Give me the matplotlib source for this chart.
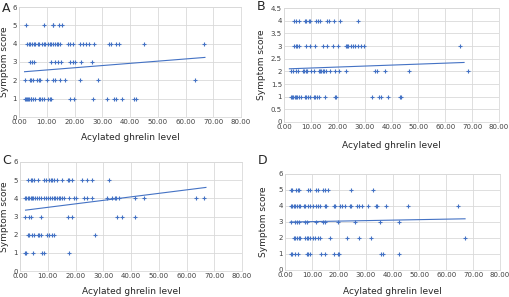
import matplotlib
matplotlib.use("Agg")
import matplotlib.pyplot as plt
import numpy as np

# Acylated ghrelin level per symptom score
a_x = {
    5: [2.4, 9.1, 12.1, 12.4, 14.4, 15.6],
    4: [2.9, 3.5, 4.1, 4.7, 5.3, 5.9, 6.9, 7.3, 8.3, 8.9, 9.5, 10.4, 11, 11.6, 12.4, 13,
        13.6, 14.2, 14.8, 17.7, 18.3, 19.5, 22.1, 23.0, 24.2, 25.4, 27.2, 32.5, 33.1,
        34.9, 36.1, 44.9, 66.8],
    3: [4.1, 4.7, 5.3, 11.6, 13, 14.2, 15.1, 18.3, 19.5, 20.1, 22.5, 26.2],
    2: [2.1, 3.8, 4.5, 5, 6.5, 7.1, 7.7, 10, 12.1, 12.8, 14.8, 16.6, 22.1, 28.4, 63.5],
    1: [2.1, 2.6, 2.9, 3.3, 3.7, 4.2, 4.5, 5, 5.9, 7.1, 7.7, 8.3, 8.9, 10.4, 11, 11.6,
        18.3, 19.9, 26.8, 31.6, 34.3, 34.9, 37, 41.6, 42.1],
}
b_x = {
    4: [3.7, 4.3, 5.5, 7.7, 8.3, 9.4, 9.8, 11.9, 12.6, 13.5, 16, 16.6, 18.6, 20.9, 27.6],
    3: [3.7, 4.3, 4.9, 5.5, 8, 9.8, 11.4, 14.5, 16, 18.4, 20.2, 22.9, 23.3, 23.9, 24.9,
        25.8, 26.4, 27.6, 28.8, 29.8, 65.6],
    2: [2.5, 3.3, 4.3, 5.3, 7.1, 7.6, 8, 8.6, 10.1, 11, 12.9, 13.3, 13.8, 14.5, 14.9,
        15.6, 17.2, 19, 20.6, 22.9, 33.7, 34.6, 37.4, 46.6, 68.5],
    1: [2.5, 3.0, 3.5, 4.0, 4.5, 5.0, 5.5, 6.2, 7.7, 8.3, 8.9, 9.6, 11, 11.6, 12.3, 13.0,
        15.3, 18.9, 19.5, 32.9, 35.3, 36.2, 38.7, 43.3, 43.6],
}
c_x = {
    5: [3, 3.8, 4.4, 5, 6.5, 8.5, 9.5, 10.6, 11.3, 11.7, 12.3, 13.3, 15.1, 17.2, 17.8,
        18.9, 22.4, 24, 26, 32],
    4: [1.8, 2.3, 2.8, 3.3, 3.8, 4.3, 4.8, 5.3, 6.2, 6.8, 7.7, 8.5, 9.4, 10.1, 10.9, 11.5,
        12.1, 12.7, 13.3, 13.9, 14.5, 15.1, 15.7, 17.5, 19.6, 20.0, 23.2, 24.3, 26.1,
        31.5, 33.2, 34.1, 34.7, 35.5, 41.5, 44.7, 63.4, 66.4],
    3: [1.8, 3.2, 3.8, 7.4, 17.2, 18.9, 34.9, 36.7, 41.5],
    2: [3, 3.4, 4.4, 5, 6.5, 7, 7.4, 9.7, 10.3, 11.7, 12.1, 26.9],
    1: [1.8, 2.3, 4.6, 8, 8.5, 17.8],
}
d_x = {
    5: [2.1, 2.7, 4.1, 4.8, 5.3, 8.7, 9.3, 11.7, 12.3, 14.1, 14.7, 15.9, 24.7, 32.9],
    4: [2.1, 2.7, 3.3, 3.9, 4.5, 5.1, 5.7, 6.9, 7.5, 8.7, 9.3, 10.5, 11.7, 12.3, 12.9,
        14.7, 15.3, 18.1, 18.7, 20.4, 21.1, 22.3, 24.2, 24.6, 26.7, 27.4, 28.8, 31.0,
        33.7, 34.3, 37.7, 45.6, 64.3],
    3: [2.3, 3.9, 4.5, 5.1, 7.5, 8.1, 11.7, 14.1, 14.7, 19.6, 25.9, 35.3, 42.5],
    2: [3.3, 3.9, 4.5, 5.1, 5.7, 7.5, 8.1, 8.7, 9.3, 10.5, 11.1, 12.3, 12.9, 16.9, 23.2,
        27.7, 32.0, 66.9],
    1: [2.1, 2.7, 3.9, 4.8, 8.1, 8.7, 9.3, 13.5, 14.7, 18.1, 19.6, 20.2, 35.9, 36.5, 42.5],
}

# trend line end values
trend_x = [2.0, 67.0]
a_trend = [2.47, 3.25]
b_trend = [2.10, 2.35]
c_trend = [3.35, 4.60]
d_trend = [3.00, 3.20]

blue = "#4472C4"
grid = "#D9D9D9"
W, H = 510, 297

fig = plt.figure(figsize=(W / 100, H / 100), dpi=100)

# letter, data, trend, plot box in pixels (left, right, top, bottom), ymax, ystep,
# letter position, y-label x, x-label y
panels = [
    ("A", a_x, a_trend, (19, 241, 7, 117), 6, 1, (2, 8), 5, 137),
    ("B", b_x, b_trend, (284, 499, 8, 122), 4.5, 0.5, (257, 7), 262, 145),
    ("C", c_x, c_trend, (20, 242, 162, 271), 6, 1, (2, 160), 5, 291),
    ("D", d_x, d_trend, (285, 500, 174, 270), 6, 1, (258, 161), 263, 291),
]

for letter, data, trend, box, ymax, ystep, lab, ylx, xly in panels:
    l, r, t, b = box
    ax = fig.add_axes([l / W, 1 - b / H, (r - l) / W, (b - t) / H])
    for score, xs in data.items():
        ax.scatter(xs, [score] * len(xs), marker="+", s=6, color=blue,
                   linewidths=0.8, zorder=3)
    ax.plot(trend_x, trend, color=blue, lw=0.8, zorder=3)
    ax.set_xlim(0, 80)
    ax.set_ylim(0, ymax)
    ax.set_xticks(np.arange(0, 81, 10))
    ax.set_xticklabels([f"{v:.2f}" for v in np.arange(0, 81, 10)])
    yt = np.arange(0, ymax + 0.01, ystep)
    ax.set_yticks(yt)
    ax.set_yticklabels([f"{v:g}" for v in yt])
    ax.grid(True, color=grid, lw=0.6)
    ax.set_axisbelow(True)
    for s in ax.spines.values():
        s.set_color(grid)
        s.set_linewidth(0.6)
    ax.tick_params(length=0, labelsize=5, pad=1.5, colors="#404040")
    ax.set_xlabel("Acylated ghrelin level", fontsize=6.5, color="#262626", va="center")
    ax.set_ylabel("Symptom score", fontsize=6.5, color="#262626", va="center")
    # place axis labels at the pixel positions seen in the reference
    ax.xaxis.set_label_coords(0.5, -(xly - b) / (b - t))
    ax.yaxis.set_label_coords(-(l - ylx) / (r - l), 0.5)
    fig.text(lab[0] / W, 1 - lab[1] / H, letter, fontsize=9,
             ha="left", va="center", color="#262626")

fig.savefig("out.png", dpi=100)
